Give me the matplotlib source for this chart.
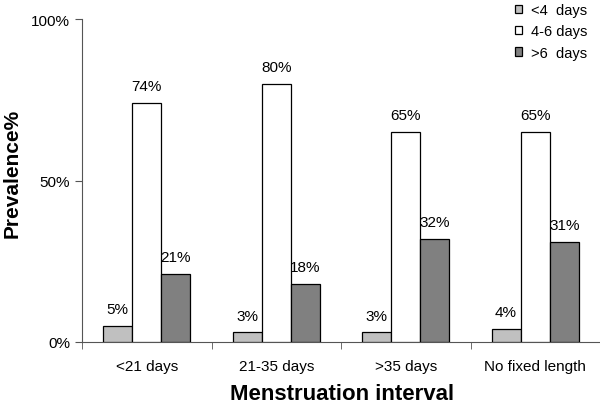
import matplotlib.pyplot as plt
import numpy as np

plt.rcParams['font.family'] = ['Liberation Sans', 'DejaVu Sans']

# categories and prevalence values (%)
categories = ["<21 days", "21-35 days", ">35 days", "No fixed length"]
series_names = ["<4  days", "4-6 days", ">6  days"]
short_vals = [5, 3, 3, 4]
normal_vals = [74, 80, 65, 65]
long_vals = [21, 18, 32, 31]
colors = ["#c0c0c0", "#ffffff", "#808080"]

fig = plt.figure(figsize=(6.0, 4.06), dpi=100)
ax = fig.add_axes([82 / 600, 63 / 406, 518 / 600, 323 / 406])

x = np.arange(len(categories))
w = 0.225
for i, (vals, name, col) in enumerate(zip([short_vals, normal_vals, long_vals],
                                          series_names, colors)):
    pos = x + (i - 1) * w
    ax.bar(pos, vals, width=w, color=col, edgecolor="black", linewidth=0.9,
           label=name, zorder=3)
    for px, v in zip(pos, vals):
        ax.annotate(f"{v}%", (px, v), xytext=(0, 7), textcoords="offset points",
                    ha="center", va="bottom", fontsize=11)

ax.set_xlim(-0.5, len(categories) - 0.5)
ax.set_ylim(0, 100)
ax.set_yticks([0, 50, 100])
ax.set_yticklabels(["0%", "50%", "100%"], fontsize=11)
ax.set_xticks(x)
ax.set_xticklabels(categories, fontsize=11)
ax.tick_params(axis="x", length=0, pad=12)
ax.set_xticks(np.arange(len(categories) + 1) - 0.5, minor=True)
ax.tick_params(axis="x", which="minor", length=5, color="#555555")
ax.tick_params(axis="y", length=5, color="#555555")

for s in ["top", "right"]:
    ax.spines[s].set_visible(False)
ax.spines["left"].set_color("#555555")
ax.spines["bottom"].set_color("#555555")

ax.set_xlabel("Menstruation interval", fontsize=16, fontweight="bold")
ax.xaxis.set_label_coords(0.502, -0.128)
ax.set_ylabel("Prevalence%", fontsize=15, fontweight="bold")
ax.yaxis.set_label_coords(-0.117, 0.525)

ax.legend(loc="upper right", bbox_to_anchor=(1.001, 1.09), frameon=False,
          fontsize=10.5, handlelength=0.5, handleheight=0.5, handletextpad=0.6,
          labelspacing=0.5)

fig.savefig("out.png", dpi=100)
